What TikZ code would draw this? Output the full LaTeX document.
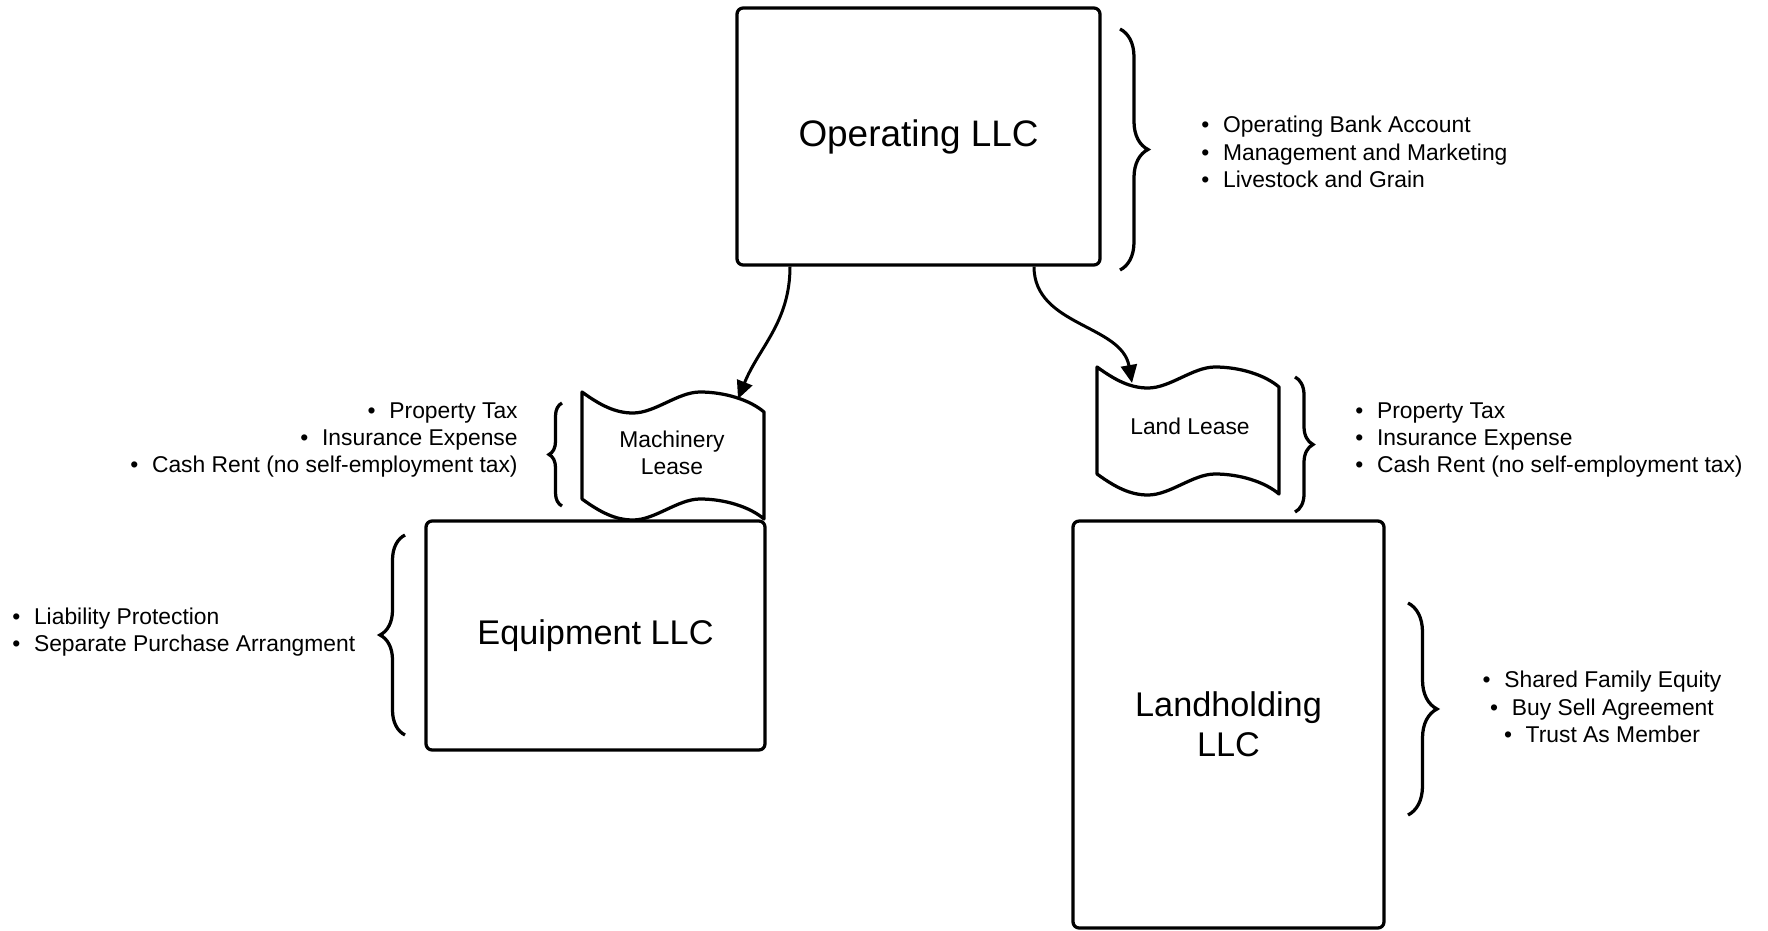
\documentclass[tikz,border=0pt]{standalone}
\usepackage{fontspec}
\setmainfont{Liberation Sans}
\usepackage{tikz}
\usetikzlibrary{arrows.meta,calc,decorations.pathreplacing}
\tikzstyle{llcbox}=[draw, line width=0.065cm, rounded corners=0.12cm, align=center, font=\fontsize{19.5}{23}\selectfont]
\tikzstyle{leasebox}=[draw, line width=0.065cm, fill=white, line join=round]
\tikzstyle{leasetext}=[align=center, inner sep=0pt, font=\fontsize{13}{15.6}\selectfont]
\tikzstyle{notes}=[inner sep=0pt, font=\fontsize{13}{15.6}\selectfont]
\tikzstyle{flow}=[-{Triangle[length=0.36cm,width=0.32cm]}, line width=0.06cm]
\tikzset{curly/.style={decorate, decoration={brace, amplitude=#1}, line width=0.065cm}}
\newcommand{\bul}{\textbullet\hspace{0.6em}}
% wavy lease sheet, #1 = top left corner
\newcommand{\leaseshape}[1]{%
  \draw[leasebox, shift={#1}] (0,0) .. controls (18,13) and (33,21) .. (51,21)
    .. controls (73,21) and (96,0) .. (118,0)
    .. controls (143,0) and (168,8) .. (182,20) -- (182,127)
    .. controls (168,115) and (143,107) .. (118,107)
    .. controls (96,107) and (73,128) .. (51,128)
    .. controls (33,128) and (18,120) .. (0,107) -- cycle;}

\begin{document}
\begin{tikzpicture}[x=0.02cm, y=-0.02cm]
\useasboundingbox (0,0) rectangle (1768,930);

\node[llcbox, minimum width=7.26cm, minimum height=5.14cm, font=\fontsize{21}{25}\selectfont] (op) at (918.5,136.5) {Operating LLC};
\node[llcbox, minimum width=6.78cm, minimum height=4.58cm] (eq) at (595.5,635.5) {Equipment LLC};
\node[llcbox, minimum width=6.22cm, minimum height=8.14cm] (land) at (1228.5,724.5) {Landholding\\LLC};

\leaseshape{(582,392)}
\leaseshape{(1097,367)}
\node[leasetext] (mlText) at (672,453) {Machinery\\Lease};
\node[leasetext] (llText) at (1190,426) {Land Lease};
\coordinate (mlTip) at (738,399);
\coordinate (llTip) at (1132,383);

\draw[flow] ($(op.south)+(-128.5,0)$) to[out=-90,in=68] (mlTip);
\draw[flow] ($(op.south)+(115.5,0)$) to[out=-90,in=100] (llTip);

\draw[curly=0.56cm] (1120,29) -- (1120,270);
\draw[curly=0.26cm] (562,506) -- (562,403);
\draw[curly=0.5cm] (405,735) -- (405,535);
\draw[curly=0.36cm] (1295,377) -- (1295,512);
\draw[curly=0.58cm] (1408,603) -- (1408,815);

\node[notes, anchor=west, align=left] (opNotes) at (1201,152) {\bul Operating Bank Account\\\bul Management and Marketing\\\bul Livestock and Grain};
\node[notes, anchor=east, align=right] (mlNotes) at (518,440) {\bul Property Tax\\\bul Insurance Expense\\\bul Cash Rent (no self-employment tax)};
\node[notes, anchor=west, align=left] (eqNotes) at (12,632) {\bul Liability Protection\\\bul Separate Purchase Arrangment};
\node[notes, anchor=west, align=left] (llNotes) at (1355,440) {\bul Property Tax\\\bul Insurance Expense\\\bul Cash Rent (no self-employment tax)};
\node[notes, align=center] (landNotes) at (1602,707) {\bul Shared Family Equity\\\bul Buy Sell Agreement\\\bul Trust As Member};
\end{tikzpicture}
\end{document}
